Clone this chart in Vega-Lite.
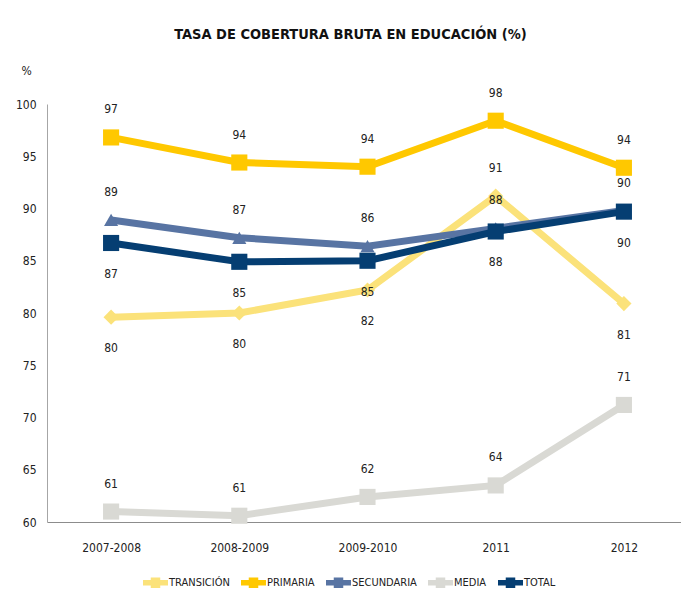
{
  "$schema": "https://vega.github.io/schema/vega-lite/v6.json",
  "width": 641,
  "height": 418,
  "autosize": {"type": "none"},
  "padding": {"left": 47, "top": 104, "right": 0, "bottom": 76},
  "background": "white",
  "title": {
    "text": "TASA DE COBERTURA BRUTA EN EDUCACIÓN (%)",
    "font": "Liberation Sans Narrow, DejaVu Sans Condensed, sans-serif",
    "fontSize": 14.5,
    "fontWeight": "bold",
    "color": "#111111",
    "anchor": "middle",
    "frame": "group",
    "dx": -17,
    "offset": 22
  },
  "data": {
    "values": [
      {"year": "2007-2008", "serie": "TRANSICIÓN", "value": 79.6},
      {"year": "2008-2009", "serie": "TRANSICIÓN", "value": 80.0},
      {"year": "2009-2010", "serie": "TRANSICIÓN", "value": 82.2},
      {"year": "2011", "serie": "TRANSICIÓN", "value": 91.2},
      {"year": "2012", "serie": "TRANSICIÓN", "value": 80.9},
      {"year": "2007-2008", "serie": "PRIMARIA", "value": 96.8},
      {"year": "2008-2009", "serie": "PRIMARIA", "value": 94.4},
      {"year": "2009-2010", "serie": "PRIMARIA", "value": 94.0},
      {"year": "2011", "serie": "PRIMARIA", "value": 98.4},
      {"year": "2012", "serie": "PRIMARIA", "value": 93.9},
      {"year": "2007-2008", "serie": "SECUNDARIA", "value": 88.9},
      {"year": "2008-2009", "serie": "SECUNDARIA", "value": 87.2},
      {"year": "2009-2010", "serie": "SECUNDARIA", "value": 86.4},
      {"year": "2011", "serie": "SECUNDARIA", "value": 88.1},
      {"year": "2012", "serie": "SECUNDARIA", "value": 89.8},
      {"year": "2007-2008", "serie": "MEDIA", "value": 61.0},
      {"year": "2008-2009", "serie": "MEDIA", "value": 60.6},
      {"year": "2009-2010", "serie": "MEDIA", "value": 62.4},
      {"year": "2011", "serie": "MEDIA", "value": 63.5},
      {"year": "2012", "serie": "MEDIA", "value": 71.2},
      {"year": "2007-2008", "serie": "TOTAL", "value": 86.7},
      {"year": "2008-2009", "serie": "TOTAL", "value": 84.9},
      {"year": "2009-2010", "serie": "TOTAL", "value": 85.0},
      {"year": "2011", "serie": "TOTAL", "value": 87.8},
      {"year": "2012", "serie": "TOTAL", "value": 89.7}
    ]
  },
  "encoding": {
    "x": {
      "field": "year",
      "type": "ordinal",
      "sort": ["2007-2008", "2008-2009", "2009-2010", "2011", "2012"],
      "scale": {"type": "point", "padding": 0.5},
      "axis": {
        "title": null,
        "labelAngle": 0,
        "ticks": false,
        "labelPadding": 20,
        "domainColor": "#8c8c8c",
        "domainWidth": 1
      }
    },
    "y": {
      "field": "value",
      "type": "quantitative",
      "scale": {"domain": [60, 100], "zero": false, "nice": false},
      "axis": {
        "title": "%",
        "titleAngle": 0,
        "titleX": -21,
        "titleY": -34,
        "titleAlign": "center",
        "titleBaseline": "middle",
        "titleFontWeight": "normal",
        "titleFontSize": 12,
        "values": [60, 65, 70, 75, 80, 85, 90, 95, 100],
        "ticks": false,
        "grid": false,
        "labelPadding": 11,
        "domainColor": "#a6a6a6",
        "domainWidth": 1
      }
    },
    "color": {
      "field": "serie",
      "type": "nominal",
      "scale": {
        "domain": ["TRANSICIÓN", "PRIMARIA", "SECUNDARIA", "MEDIA", "TOTAL"],
        "range": ["#FBE27A", "#FFC800", "#5874A3", "#D9D9D4", "#053E72"]
      }
    }
  },
  "layer": [
    {
      "mark": {"type": "line", "strokeWidth": 7},
      "encoding": {
        "color": {
          "field": "serie",
          "type": "nominal",
          "legend": {
            "orient": "none",
            "direction": "horizontal",
            "legendX": 96,
            "legendY": 466,
            "title": null,
            "symbolType": "M-1,-0.22H1V0.22H-1Z M-0.38,-0.42H0.38V0.42H-0.38Z",
            "symbolSize": 625,
            "symbolStrokeWidth": 0,
            "labelFontSize": 11,
            "labelOffset": 1,
            "columnPadding": 11,
            "encode": {
              "symbols": {
                "update": {
                  "fill": {"scale": "color", "field": "value"},
                  "fillOpacity": {"value": 1},
                  "strokeWidth": {"value": 0}
                }
              }
            }
          }
        }
      }
    },
    {
      "transform": [{"filter": "datum.serie == 'TRANSICIÓN'"}],
      "mark": {"type": "point", "shape": "diamond", "filled": true, "opacity": 1, "size": 230}
    },
    {
      "transform": [{"filter": "datum.serie == 'SECUNDARIA'"}],
      "mark": {"type": "point", "shape": "triangle-up", "filled": true, "opacity": 1, "size": 200}
    },
    {
      "transform": [{"filter": "datum.serie == 'PRIMARIA' || datum.serie == 'MEDIA' || datum.serie == 'TOTAL'"}],
      "mark": {"type": "point", "shape": "square", "filled": true, "opacity": 1, "size": 260}
    },
    {
      "transform": [{"filter": "!(datum.serie == 'TOTAL' || (datum.serie == 'TRANSICIÓN' && datum.year != '2011'))"}],
      "mark": {"type": "text", "dy": -28, "fontSize": 12, "color": "#222222"},
      "encoding": {
        "text": {"field": "value", "type": "quantitative", "format": ".0f"},
        "color": {"value": "#222222"}
      }
    },
    {
      "transform": [{"filter": "datum.serie == 'TOTAL' || (datum.serie == 'TRANSICIÓN' && datum.year != '2011')"}],
      "mark": {"type": "text", "dy": 31, "fontSize": 12, "color": "#222222"},
      "encoding": {
        "text": {"field": "value", "type": "quantitative", "format": ".0f"},
        "color": {"value": "#222222"}
      }
    }
  ],
  "config": {
    "view": {"stroke": null},
    "font": "Liberation Sans Narrow, DejaVu Sans Condensed, sans-serif",
    "axis": {"labelFontSize": 12, "labelColor": "#222222", "titleColor": "#222222", "labelFont": "Liberation Sans Narrow, DejaVu Sans Condensed, sans-serif", "titleFont": "Liberation Sans Narrow, DejaVu Sans Condensed, sans-serif"},
    "legend": {"labelFont": "Liberation Sans Narrow, DejaVu Sans Condensed, sans-serif", "labelColor": "#222222"},
    "text": {"font": "Liberation Sans Narrow, DejaVu Sans Condensed, sans-serif"}
  }
}
